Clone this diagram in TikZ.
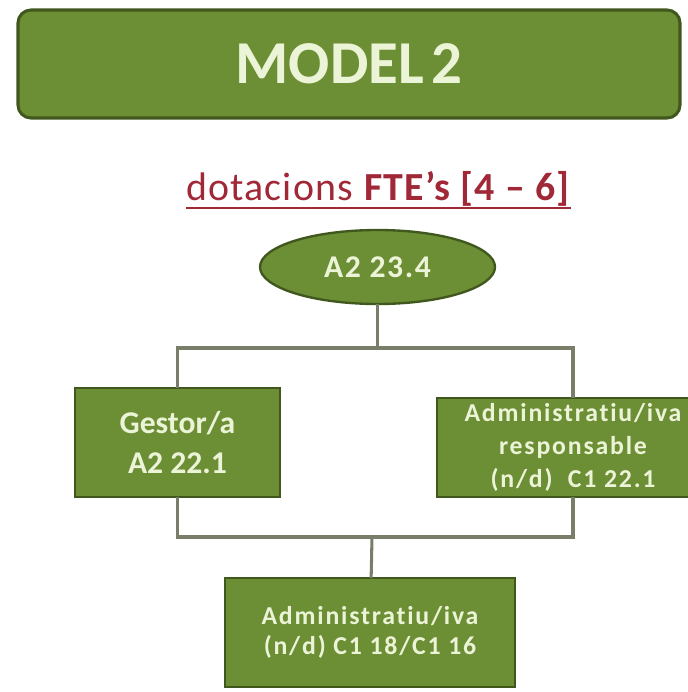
\documentclass[tikz,border=0pt]{standalone}
\usepackage{fontspec}
\setmainfont{Carlito}[Ligatures=NoCommon]
\usetikzlibrary{shapes.geometric}
\definecolor{boxgreen}{RGB}{108,142,52}
\definecolor{edgegreen}{RGB}{64,88,30}
\definecolor{linegrey}{RGB}{120,126,104}
\definecolor{paletext}{RGB}{236,244,216}
\definecolor{titlered}{RGB}{160,40,55}

\begin{document}
\begin{tikzpicture}
[x=0.03cm,y=-0.03cm]
\tikzset{greenbox/.style={rectangle,draw=edgegreen,line width=2pt,fill=boxgreen,text=paletext,align=center,inner sep=0pt,outer sep=0pt}}
\tikzset{greenoval/.style={ellipse,draw=edgegreen,line width=2pt,fill=boxgreen,text=paletext,inner sep=0pt,outer sep=0pt}}
\tikzset{link/.style={draw=linegrey,line width=2.6pt}}
\useasboundingbox (0,0) rectangle (687,692);

\node [greenbox,line width=2.6pt,rounded corners=11pt,minimum width=19.86cm,minimum height=3.24cm,font=\bfseries\fontsize{52}{52}\selectfont] (head) at (349,64) {MODEL\hspace{0.12em}2};
\node [text=titlered,inner sep=0pt,anchor=base,font=\fontsize{34}{34}\selectfont\addfontfeatures{LetterSpace=3}] (sub) at (378.5,200) {dotacions \textbf{FTE’s [4 – 6]}};
\draw [titlered,line width=1.6pt] ([yshift=-6.5pt]sub.base west) -- ([yshift=-6.5pt]sub.base east);

\node [greenoval,minimum width=7.05cm,minimum height=2.22cm,font=\bfseries\fontsize{27}{27}\selectfont\addfontfeatures{LetterSpace=5}] (top) at (377.5,267) {A2 23.4};
\node [greenbox,minimum width=6.15cm,minimum height=3.27cm,font=\bfseries\fontsize{27}{34}\selectfont] (gest) at (177.5,442.5) {Gestor/a\\A2 22.1};
\node [greenbox,minimum width=8.16cm,minimum height=2.97cm,font=\bfseries\fontsize{22}{28}\selectfont\addfontfeatures{LetterSpace=7}] (admr) at (573,447.5) {Administratiu/iva\\responsable\\(n/d)~~C1 22.1};
\node [greenbox,minimum width=8.7cm,minimum height=3.27cm,font=\bfseries\fontsize{22}{26}\selectfont\addfontfeatures{LetterSpace=7}] (admb) at (370,632.5) {Administratiu/iva\\(n/d) C1 18/C1 16};

\coordinate (up) at (377.5,348);
\coordinate (down) at (372,537);
\draw [link] (top) -- (up);
\draw [link] (up) -| (gest);
\draw [link] (up) -| (admr);
\draw [link] (gest) |- (down);
\draw [link] (admr) |- (down);
\draw [link] (down) -- (admb);

\end{tikzpicture}
\end{document}
